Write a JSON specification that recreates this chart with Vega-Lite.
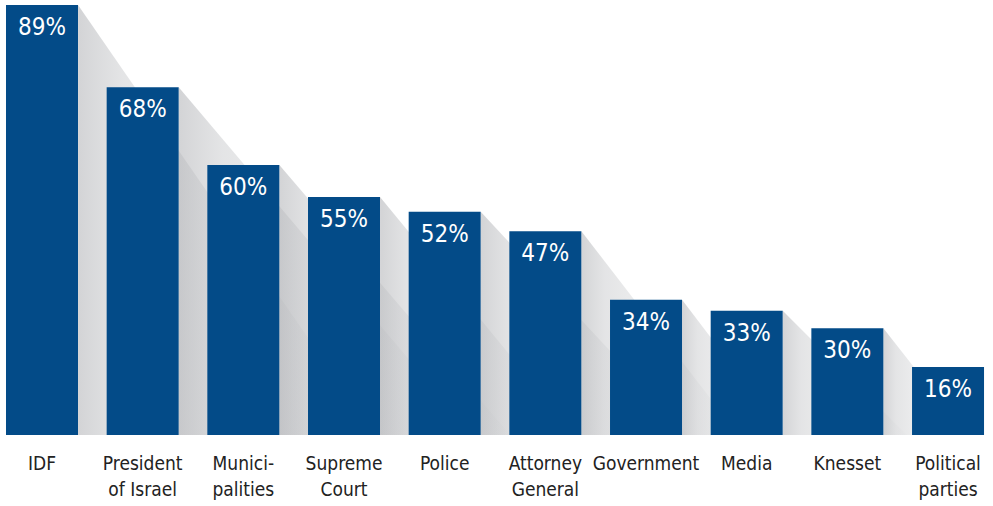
{
  "$schema": "https://vega.github.io/schema/vega-lite/v6.json",
  "description": "Trust in institutions, bars with diagonal grey shadows and labels inside the bars.",
  "width": 993,
  "height": 435,
  "autosize": {"type": "none"},
  "padding": {"left": 0, "top": 0, "right": 0, "bottom": 71},
  "background": "white",
  "config": {"view": {"stroke": null}},
  "datasets": {
    "bars": [
      {"pos": 0, "institution": "IDF", "label": "89%", "drawn": 89.0},
      {"pos": 1, "institution": "President\nof Israel", "label": "68%", "drawn": 72.0},
      {"pos": 2, "institution": "Munici-\npalities", "label": "60%", "drawn": 55.9},
      {"pos": 3, "institution": "Supreme\nCourt", "label": "55%", "drawn": 49.3},
      {"pos": 4, "institution": "Police", "label": "52%", "drawn": 46.2},
      {"pos": 5, "institution": "Attorney\nGeneral", "label": "47%", "drawn": 42.2},
      {"pos": 6, "institution": "Government", "label": "34%", "drawn": 28.0},
      {"pos": 7, "institution": "Media", "label": "33%", "drawn": 25.7},
      {"pos": 8, "institution": "Knesset", "label": "30%", "drawn": 22.1},
      {"pos": 9, "institution": "Political\nparties", "label": "16%", "drawn": 14.1}
    ],
    "shadows": [
      {"bar": "IDF", "x": 0.358, "y": 89.0},
      {"bar": "IDF", "x": 3.31, "y": 0},
      {"bar": "President", "x": 1.358, "y": 72.0},
      {"bar": "President", "x": 4.28, "y": 0},
      {"bar": "Municipalities", "x": 2.358, "y": 55.9},
      {"bar": "Municipalities", "x": 4.65, "y": 0},
      {"bar": "Supreme Court", "x": 3.358, "y": 49.3},
      {"bar": "Supreme Court", "x": 5.3, "y": 0},
      {"bar": "Police", "x": 4.358, "y": 46.2},
      {"bar": "Police", "x": 6.42, "y": 0},
      {"bar": "Attorney General", "x": 5.358, "y": 42.2},
      {"bar": "Attorney General", "x": 6.92, "y": 0},
      {"bar": "Government", "x": 6.358, "y": 28.0},
      {"bar": "Government", "x": 7.38, "y": 0},
      {"bar": "Media", "x": 7.358, "y": 25.7},
      {"bar": "Media", "x": 8.59, "y": 0},
      {"bar": "Knesset", "x": 8.358, "y": 22.1},
      {"bar": "Knesset", "x": 9.19, "y": 0}
    ]
  },
  "layer": [
    {
      "data": {"name": "shadows"},
      "mark": {
        "type": "area",
        "opacity": 1,
        "color": {
          "gradient": "linear",
          "x1": 0, "y1": 0, "x2": 1, "y2": 0,
          "stops": [
            {"offset": 0, "color": "rgba(150,152,157,0.42)"},
            {"offset": 0.15, "color": "rgba(165,167,171,0.3)"},
            {"offset": 1, "color": "rgba(195,197,200,0.04)"}
          ]
        }
      },
      "encoding": {
        "x": {"field": "x", "type": "quantitative", "scale": {"domain": [-0.4172, 9.4467], "nice": false, "zero": false, "padding": 0}, "axis": null},
        "y": {"field": "y", "type": "quantitative", "stack": null, "scale": {"domain": [0, 90.06], "nice": false}, "axis": null},
        "detail": {"field": "bar", "type": "nominal"}
      }
    },
    {
      "data": {"name": "bars"},
      "mark": {"type": "bar", "width": 72, "color": "#034b88"},
      "encoding": {
        "x": {"field": "pos", "type": "quantitative"},
        "y": {"field": "drawn", "type": "quantitative"}
      }
    },
    {
      "data": {"name": "bars"},
      "mark": {"type": "text", "color": "white", "font": "Liberation Sans Narrow, DejaVu Sans Condensed, Roboto", "fontSize": 24, "baseline": "alphabetic", "dy": 30},
      "encoding": {
        "x": {"field": "pos", "type": "quantitative"},
        "y": {"field": "drawn", "type": "quantitative"},
        "text": {"field": "label", "type": "nominal"}
      }
    },
    {
      "data": {"name": "bars"},
      "mark": {"type": "text", "color": "#222222", "font": "Liberation Sans Narrow, DejaVu Sans Condensed, Roboto", "fontSize": 19, "baseline": "top", "dy": 20, "lineBreak": "\n", "lineHeight": 26},
      "encoding": {
        "x": {"field": "pos", "type": "quantitative"},
        "y": {"datum": 0, "type": "quantitative"},
        "text": {"field": "institution", "type": "nominal"}
      }
    }
  ]
}
